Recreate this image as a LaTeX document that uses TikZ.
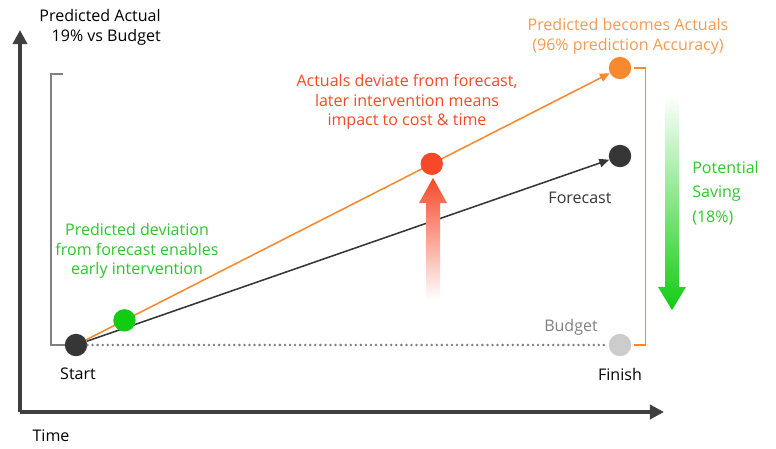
\documentclass[tikz,border=0pt]{standalone}
\usepackage{fontspec}
\setmainfont{Open Sans}
\usetikzlibrary{arrows.meta}
\definecolor{axisgray}{HTML}{3F3F3F}
\definecolor{dotdark}{HTML}{363636}
\definecolor{actorange}{HTML}{F7892F}
\definecolor{txtorange}{HTML}{F89A52}
\definecolor{devred}{HTML}{F5492A}
\definecolor{earlygreen}{HTML}{11CC11}
\definecolor{txtgreen}{HTML}{2FC52F}
\definecolor{budgetgray}{HTML}{CCCCCC}
\tikzset{
  dot/.style={circle, inner sep=0pt, minimum size=0.56cm},
  txt/.style={font=\fontsize{11.4}{14}\selectfont, align=center, inner sep=0pt},
  tip/.style={-{Triangle[length=7pt,width=6pt]}},
}
\begin{document}
\begin{tikzpicture}[x=0.025cm, y=-0.025cm]
\useasboundingbox (0,0) rectangle (776,448);
% Axes
\coordinate (origin) at (20,412);
\coordinate (ytip) at (20,30);
\coordinate (xtip) at (664,412);
\draw[axisgray, line width=2.4pt, -{Triangle[length=10pt,width=10pt]}] (origin) -- (ytip);
\draw[axisgray, line width=2.4pt, -{Triangle[length=10pt,width=10pt]}] (origin) -- (xtip);
\node[txt, text=black] (time) at (51,436) {Time};
\node[txt, text=black, align=right, anchor=north east] (ylabel) at (161,9)
    {Predicted Actual\\19\% vs Budget};
% End points
\node[dot, fill=dotdark] (start) at (76,345) {};
\node[dot, fill=actorange] (actual) at (620,68) {};
\node[dot, fill=dotdark] (forecast) at (620,156) {};
\node[dot, fill=budgetgray] (budget) at (620,345) {};
% Brackets
\coordinate (gtop) at (63,74);
\draw[gray, line width=1pt] (gtop) -- (51,74) |- (start.west);
\draw[actorange, line width=1pt] ([xshift=1.5pt]actual.east) -- ++(12,0) |- ([xshift=1.5pt]budget.east);
% Lines
\draw[gray, line width=2pt, line cap=round, dash pattern=on 0pt off 3.6pt] (start) -- (budget);
\draw[dotdark, line width=1.1pt, tip] (start) -- (forecast);
\draw[actorange, line width=1.1pt, tip] (start) -- (actual)
    node[dot, fill=earlygreen, pos=0.073] (early) {}
    node[dot, fill=devred, pos=0.66] (deviate) {};
% Shaded arrows
\shade[top color=white, bottom color=earlygreen]
    (665,95) -- (679,95) -- (679,287) -- (686,287) -- (672,310)
    -- (658,287) -- (665,287) -- cycle;
\shade[top color=devred, bottom color=white]
    (426,300) -- (440,300) -- (440,203) -- (447,203) -- (433,178)
    -- (419,203) -- (426,203) -- cycle;
% Labels
\node[txt, text=black] (startlbl) at (78,374) {Start};
\node[txt, text=black] (finishlbl) at (620,374) {Finish};
\node[txt, text=dotdark] (forecastlbl) at (580,198) {Forecast};
\node[txt, text=gray] (budgetlbl) at (571,327) {Budget};
\node[txt, text=txtorange] (actuallbl) at (628,36)
    {Predicted becomes Actuals\\(96\% prediction Accuracy)};
\node[txt, text=devred] (deviatelbl) at (407,102)
    {Actuals deviate from forecast,\\later intervention means\\impact to cost \& time};
\node[txt, text=txtgreen] (earlylbl) at (137,251)
    {Predicted deviation\\from forecast enables\\early intervention};
\node[txt, text=txtgreen, align=left, anchor=west,
    font=\fontsize{11.4}{17.4}\selectfont] (savinglbl) at (692,193)
    {Potential\\Saving\\(18\%)};
\end{tikzpicture}
\end{document}
